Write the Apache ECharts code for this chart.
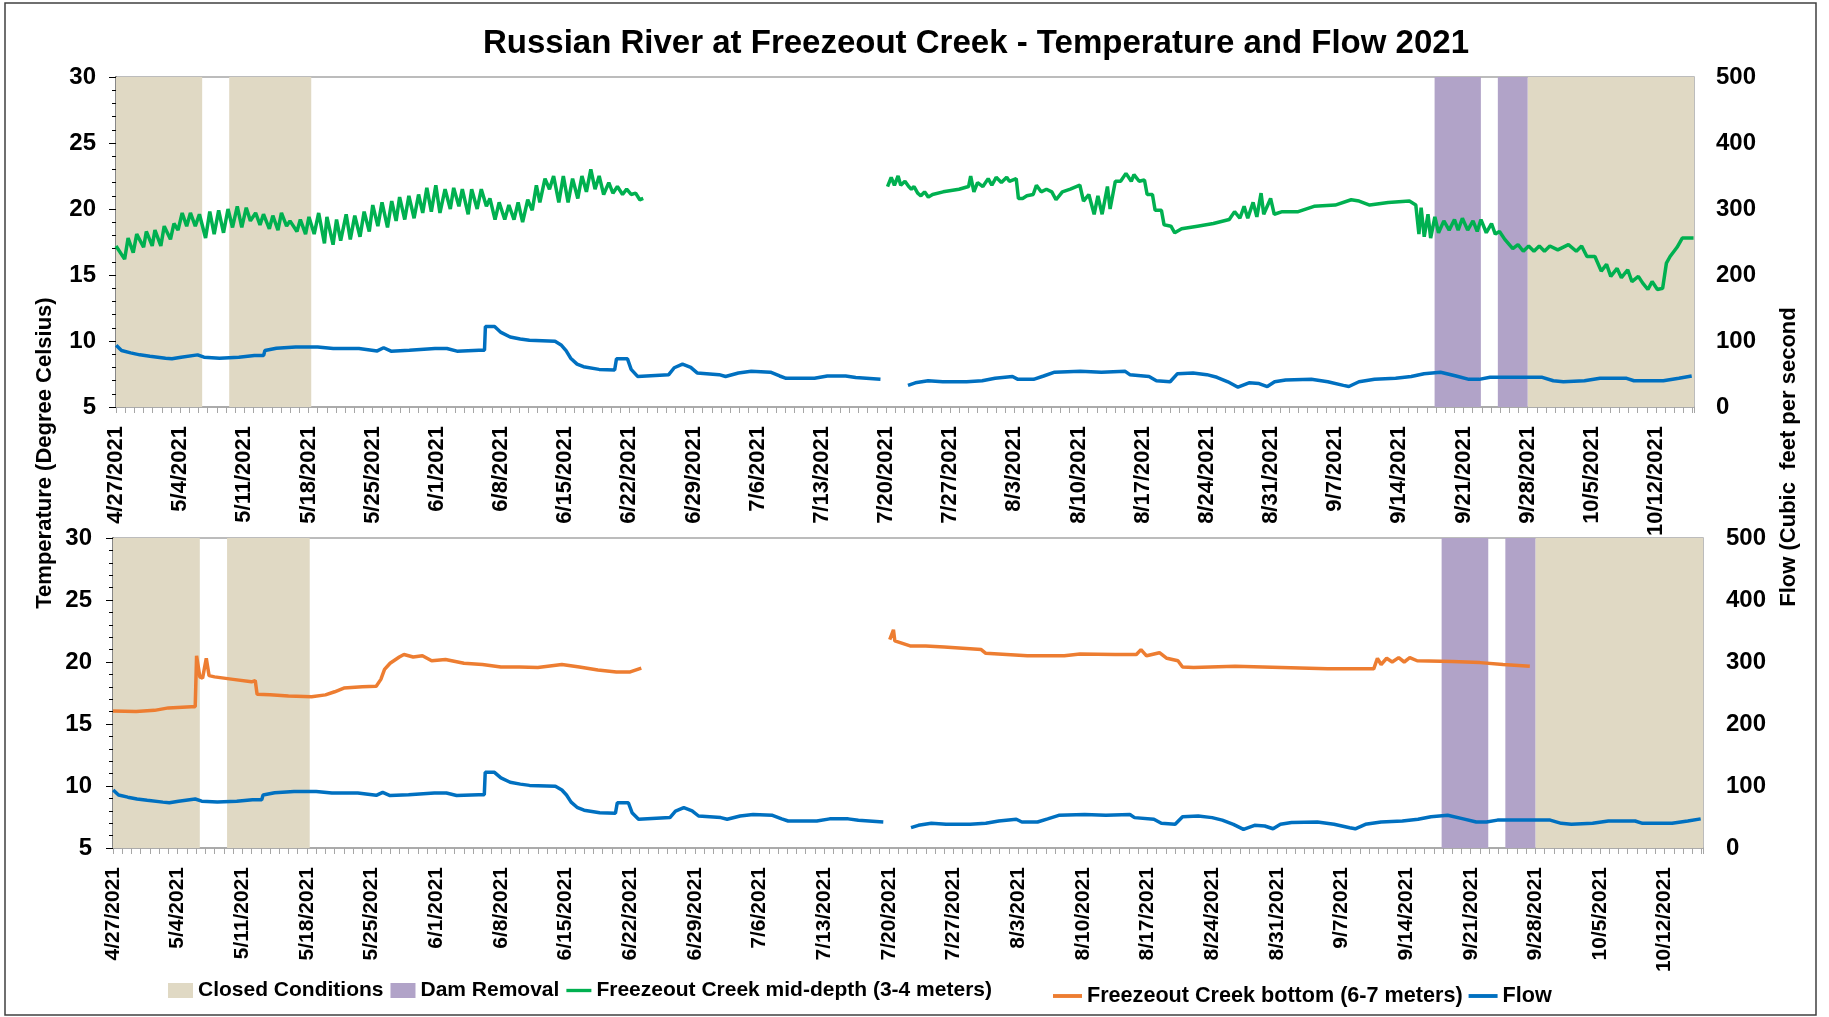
<!DOCTYPE html>
<html>
<head>
<meta charset="utf-8">
<script src="https://cdn.jsdelivr.net/npm/echarts@6/dist/echarts.min.js"></script>
<style>
  html, body { margin: 0; padding: 0; background: #fff; }
  #chart { width: 1829px; height: 1017px; }
</style>
</head>
<body>
<div id="chart"></div>
<script>
// x values are days after 4/27/2021
const startDate = [2021, 3, 27];
const dayMax = 172.15;

const closedRanges = [[0, 9.4], [12.35, 21.3], [154.0, dayMax]];
const damRanges = [[143.85, 148.9], [150.75, 154.0]];

// Freezeout Creek mid-depth (3-4 m), deg C
const midDepthSpring = [
  [0,17.2],[0.94,16.2],[1.32,17.8],[1.88,16.7],[2.26,18.1],[3.01,17.1],[3.31,18.3],[3.95,17.2],[4.25,18.4],
  [4.89,17.2],[5.26,18.7],[5.94,17.7],[6.32,18.9],[6.77,18.4],[7.22,19.7],[7.71,18.7],[8.12,19.7],[8.65,18.7],
  [9.1,19.6],[9.77,17.8],[10.23,19.8],[10.71,18.1],[11.2,19.9],[11.73,18.2],[12.22,20.0],[12.71,18.6],[13.23,20.2],
  [13.72,18.6],[14.21,20.1],[14.66,19.1],[15.23,19.7],[15.71,18.8],[16.09,19.6],[16.73,18.5],[17.11,19.5],[17.67,18.4],
  [18.05,19.7],[18.61,18.7],[18.98,19.1],[19.74,18.3],[20.11,19.2],[20.68,18.1],[21.05,19.4],[21.62,18.1],[22.11,19.7],
  [22.74,17.4],[23.01,19.4],[23.68,17.3],[24.06,19.2],[24.51,17.6],[25.11,19.6],[25.56,17.7],[26.05,19.5],[26.62,17.9],
  [27.07,19.8],[27.63,18.3],[28.01,20.3],[28.57,18.7],[29.02,20.5],[29.62,18.6],[30.08,20.6],[30.56,19.1],[30.94,20.9],
  [31.5,19.2],[31.95,21.0],[32.52,19.3],[33.01,21.1],[33.46,19.7],[33.91,21.6],[34.4,19.8],[34.89,21.8],[35.34,19.7],
  [35.9,21.5],[36.47,20.0],[36.84,21.6],[37.41,20.2],[37.78,21.5],[38.42,19.6],[38.8,21.5],[39.4,20.0],[39.85,21.5],
  [40.41,20.2],[40.79,20.8],[41.35,19.2],[41.8,20.5],[42.41,19.2],[42.86,20.3],[43.42,19.2],[43.87,20.5],[44.36,19.0],
  [44.92,20.7],[45.41,19.9],[45.86,21.8],[46.24,20.5],[46.8,22.3],[47.29,21.5],[47.74,22.5],[48.31,20.5],[48.8,22.5],
  [49.32,20.5],[49.81,22.3],[50.38,20.8],[50.83,22.5],[51.32,21.3],[51.8,23.0],[52.26,21.5],[52.71,22.5],[53.2,21.1],
  [53.76,22.0],[54.21,21.2],[54.7,21.7],[55.26,21.1],[55.71,21.5],[56.2,21.1],[56.69,21.2],[57.14,20.7],[57.52,20.8]
];
const midDepthSummer = [
  [84.17,21.7],[84.57,22.4],[84.92,21.8],[85.32,22.5],[85.61,21.8],[86.07,22.1],[86.48,21.7],[86.77,21.5],[87.06,21.7],
  [87.46,21.2],[87.81,21.0],[88.21,21.3],[88.62,20.9],[89.08,21.1],[90.24,21.3],[91.97,21.5],[93.01,21.7],[93.24,22.5],
  [93.59,21.3],[93.99,22.0],[94.57,21.7],[95.15,22.3],[95.55,21.8],[96.02,22.4],[96.59,22.0],[97.17,22.4],[97.46,22.1],
  [98.21,22.3],[98.45,20.8],[98.91,20.8],[99.37,21.0],[100.06,21.1],[100.41,21.8],[100.93,21.3],[101.51,21.5],[102.09,21.3],
  [102.55,20.7],[103.24,21.3],[104.11,21.5],[105.15,21.8],[105.55,20.6],[106.13,21.1],[106.71,19.6],[107.12,21.0],[107.58,19.6],
  [108.16,21.7],[108.45,20.0],[109.02,22.1],[109.6,22.1],[110.18,22.7],[110.76,22.1],[111.05,22.6],[111.62,22.1],[112.2,22.2],
  [112.49,21.1],[113.07,21.1],[113.36,19.9],[114.05,19.9],[114.34,18.8],[115.09,18.7],[115.5,18.2],[116.25,18.5],[117.98,18.7],
  [119.72,18.9],[121.45,19.2],[122.03,19.8],[122.61,19.3],[123.07,20.2],[123.47,19.3],[124.05,20.5],[124.46,19.4],[124.92,21.2],
  [125.21,19.6],[125.96,20.8],[126.36,19.6],[127.23,19.8],[128.97,19.8],[130.7,20.2],[133.01,20.3],[134.75,20.7],[135.61,20.6],
  [136.77,20.3],[138.79,20.5],[141.1,20.6],[141.8,20.3],[142.14,18.1],[142.38,20.1],[142.72,17.9],[143.13,19.6],[143.42,17.8],
  [143.88,19.4],[144.28,18.2],[144.86,19.1],[145.44,18.4],[146.02,19.2],[146.42,18.4],[146.88,19.3],[147.46,18.4],[148.04,19.1],
  [148.5,18.3],[148.91,19.2],[149.49,18.2],[150.06,18.9],[150.47,18.1],[150.93,18.3],[151.51,17.7],[152.38,17.0],[152.95,17.3],
  [153.53,16.8],[154.11,17.2],[154.69,16.8],[155.27,17.2],[155.84,16.8],[156.42,17.2],[157.29,16.9],[158.45,17.3],[159.31,16.8],
  [159.89,17.2],[160.47,16.4],[161.34,16.4],[162.03,15.3],[162.61,15.8],[163.07,14.9],[163.76,15.5],[164.23,14.8],[164.92,15.4],
  [165.38,14.5],[166.08,14.9],[166.54,14.4],[167.12,13.9],[167.58,14.5],[168.16,13.9],[168.73,14.0],[169.14,15.9],[169.54,16.4],
  [170.3,17.1],[170.87,17.8],[172.1,17.8]
];

// Freezeout Creek bottom (6-7 m), deg C
const bottomSpring = [
  [0,16.05],[2.5,16.0],[4.5,16.1],[6,16.3],[8.5,16.4],[8.9,16.4],[9.05,20.5],[9.4,18.8],[9.7,18.7],[10.1,20.3],
  [10.4,18.9],[11,18.8],[13,18.6],[15,18.4],[15.4,18.5],[15.6,17.4],[17,17.35],[19,17.25],[21.5,17.2],[23,17.35],
  [24,17.6],[25,17.9],[27,18.0],[28.5,18.05],[29,18.6],[29.4,19.4],[30,19.9],[31,20.4],[31.5,20.6],[32.5,20.4],
  [33.5,20.5],[34.5,20.1],[36,20.2],[38,19.9],[40,19.8],[42,19.6],[44,19.6],[46,19.55],[48.6,19.8],[50.5,19.6],
  [52.5,19.35],[54.5,19.2],[56,19.2],[57.2,19.5]
];
const bottomSummer = [
  [84.1,21.8],[84.5,22.6],[84.65,21.7],[86.3,21.3],[88,21.3],[90,21.2],[94,21.0],[94.5,20.7],[99,20.5],[103,20.5],
  [104.7,20.65],[108.5,20.6],[110.8,20.6],[111.3,21.0],[111.9,20.5],[113.3,20.75],[114.1,20.3],[115.3,20.1],[115.8,19.6],
  [117,19.55],[121.5,19.65],[126.5,19.55],[131.5,19.45],[136.5,19.45],[136.9,20.3],[137.3,19.8],[137.9,20.3],[138.5,20.0],
  [139.2,20.35],[139.8,20.0],[140.4,20.35],[141.2,20.1],[145,20.05],[148,19.95],[150.5,19.8],[153.4,19.65]
];

// Flow, cubic feet per second
const flowSpring = [
  [0.02,93.5],[0.6,85.5],[1.6,82],[2.6,79],[3.7,77],[5.4,74],[6.1,73],[7.1,75.5],[8.9,79],[9.6,75.5],[11.3,74],
  [13.4,75.5],[15.1,78],[16.1,78],[16.25,85.5],[17.5,89],[19.6,91],[22.0,91],[23.7,88.7],[26.5,88.7],[28.5,85],
  [29.2,89.8],[30,84.6],[32,86],[34.8,88.7],[36.1,88.7],[37.2,84.6],[39.6,86],[40.2,86],[40.3,122],[41.3,122],
  [42.0,113],[43.0,106],[44.1,103],[45.1,101],[47.9,99.5],[48.6,93.5],[49.1,85.5],[49.6,74],[50.3,65],[51.0,61],
  [52.7,57],[54.4,56],[54.6,73],[55.8,73],[56.2,57],[56.9,46.3],[60.3,49],[60.9,59.5],[61.8,65],[62.7,60],[63.4,51.6],
  [65.8,49],[66.5,46.3],[67.9,51.6],[69.3,54],[71.4,52.7],[72.4,47],[73.1,43.5],[76.2,43.5],[77.6,47],[79.6,47],
  [80.7,44.6],[83.4,41.9]
];
const flowSummer = [
  [86.4,32.8],[87.2,36.6],[88.6,39.8],[90.2,38.2],[92.8,38.2],[94.5,39.8],[95.9,43.5],[97.8,46.3],[98.4,41.9],
  [100.1,41.9],[101.2,47],[102.4,52.7],[105.2,54],[107.5,52.7],[110.1,54],[110.6,49],[112.7,46.3],[113.5,39.8],
  [115.0,38.2],[115.8,50.5],[117.5,51.6],[119.0,49],[120.1,45],[121.3,38.2],[122.4,30],[123.6,36.6],[124.7,35.5],
  [125.6,31],[126.4,38.2],[127.6,41],[130.4,41.9],[132.2,38.2],[133.9,32.8],[134.5,31],[135.6,38.2],[137.3,41.9],
  [139.6,43.5],[141.3,46.3],[142.7,50.5],[144.5,52.7],[146.2,47],[147.6,41.9],[148.7,41.9],[149.9,45],[153.3,45],
  [155.6,45],[156.8,39.8],[157.9,38.2],[160.2,39.8],[161.9,43.5],[164.8,43.5],[165.6,39.8],[168.8,39.8],[170.5,43.5],
  [171.9,47]
];

const FONT = 'Liberation Sans, Arial, sans-serif';
const TAN = '#e0d9c4';
const PURPLE = '#b1a3c8';
const GREEN = '#00b050';
const ORANGE = '#ed7d31';
const BLUE = '#0070c0';
const AXIS_GRAY = '#a6a6a6';
const LINE_ICON = 'path://M0,0L30,0L30,4L0,4Z';

const gap = (a, b) => a.concat([[(a[a.length - 1][0] + b[0][0]) / 2, '-']], b);

const dateLabel = (d) => {
  const t = new Date(startDate[0], startDate[1], startDate[2] + Math.round(d));
  return (t.getMonth() + 1) + '/' + t.getDate() + '/' + t.getFullYear();
};

const chart = echarts.init(document.getElementById('chart'));

const weekAxis = (gridIndex, fontSize) => ({
  type: 'value', gridIndex, position: 'bottom', min: 0, max: dayMax, interval: 7,
  axisLine: { show: true, lineStyle: { color: AXIS_GRAY, width: 1.5 } },
  axisTick: { show: true, length: 6, lineStyle: { color: AXIS_GRAY } },
  axisLabel: {
    rotate: 90, margin: 19, fontSize, fontWeight: 'bold', color: '#000', fontFamily: FONT,
    formatter: dateLabel, showMaxLabel: false
  },
  splitLine: { show: false }
});
const dayAxis = (gridIndex) => ({
  type: 'value', gridIndex, position: 'bottom', min: 0, max: dayMax, interval: 1,
  axisLine: { show: false },
  axisTick: { show: true, length: 6, lineStyle: { color: AXIS_GRAY } },
  axisLabel: { show: false },
  splitLine: { show: false }
});
const tempAxis = (gridIndex, margin) => ({
  type: 'value', gridIndex, position: 'left', min: 5, max: 30, interval: 5,
  axisLine: { show: true, lineStyle: { color: '#000', width: 1.5 } },
  axisTick: { show: true, length: 7, lineStyle: { color: '#000' } },
  minorTick: { show: true, splitNumber: 5, length: 4, lineStyle: { color: '#000' } },
  axisLabel: { fontSize: 24, fontWeight: 'bold', color: '#000', fontFamily: FONT, margin },
  splitLine: { show: false }
});
const flowAxis = (gridIndex, minor, margin) => ({
  type: 'value', gridIndex, position: 'right', min: 0, max: 500, interval: 100,
  axisLine: { show: true, lineStyle: { color: AXIS_GRAY, width: 1.5 } },
  axisTick: { show: true, length: 8, lineStyle: { color: AXIS_GRAY } },
  minorTick: { show: minor, splitNumber: 5, length: 4, lineStyle: { color: AXIS_GRAY } },
  axisLabel: { fontSize: 24, fontWeight: 'bold', color: '#000', fontFamily: FONT, margin },
  splitLine: { show: false }
});

const shade = (name, color, ranges, xi, yi) => ({
  name, type: 'line', xAxisIndex: xi, yAxisIndex: yi, data: [], color,
  markArea: {
    silent: true,
    itemStyle: { color, opacity: 1 },
    data: ranges.map(r => [{ xAxis: r[0] }, { xAxis: r[1] }])
  }
});
const line = (name, color, data, xi, yi) => ({
  name, type: 'line', xAxisIndex: xi, yAxisIndex: yi, data, color,
  symbol: 'none', connectNulls: false,
  lineStyle: { width: 3.5, color }
});

const legendText = (fontSize) => ({ fontSize, fontWeight: 'bold', color: '#000', fontFamily: FONT });

chart.setOption({
  animation: false,
  textStyle: { fontFamily: FONT },
  title: {
    text: 'Russian River at Freezeout Creek - Temperature and Flow 2021',
    left: 976, top: 27, padding: 0,
    textAlign: 'center', textVerticalAlign: 'top',
    textStyle: { fontSize: 33, fontWeight: 'bold', color: '#000', fontFamily: FONT }
  },
  legend: [
    {
      left: 168, top: 980, padding: 0, itemWidth: 25, itemHeight: 15, itemGap: 7,
      textStyle: legendText(21),
      data: [
        { name: 'Closed Conditions', icon: 'rect' },
        { name: 'Dam Removal', icon: 'rect' },
        { name: 'Freezeout Creek mid-depth (3-4 meters)', icon: LINE_ICON }
      ]
    },
    {
      left: 1053, top: 985, padding: 0, itemWidth: 29, itemHeight: 15, itemGap: 6,
      textStyle: legendText(21.6),
      data: [
        { name: 'Freezeout Creek bottom (6-7 meters)', icon: LINE_ICON },
        { name: 'Flow', icon: LINE_ICON }
      ]
    }
  ],
  grid: [
    { left: 116, right: 135, top: 77, height: 330, show: true, borderColor: AXIS_GRAY, borderWidth: 1.5 },
    { left: 113, right: 126, top: 538, height: 310, show: true, borderColor: AXIS_GRAY, borderWidth: 1.5 }
  ],
  xAxis: [weekAxis(0, 22), dayAxis(0), weekAxis(1, 21), dayAxis(1)],
  yAxis: [tempAxis(0, 20), flowAxis(0, false, 22), tempAxis(1, 21), flowAxis(1, true, 23)],
  graphic: [
    {
      type: 'rect', silent: true,
      shape: { x: 5, y: 3, width: 1811, height: 1012 },
      style: { fill: 'none', stroke: '#404040', lineWidth: 1.5 }
    },
    {
      type: 'text', x: 45, y: 453, rotation: Math.PI / 2,
      style: {
        text: 'Temperature (Degree Celsius)', font: 'bold 22px ' + FONT, fill: '#000',
        textAlign: 'center', textVerticalAlign: 'middle', align: 'center', verticalAlign: 'middle'
      }
    },
    {
      type: 'text', x: 1789, y: 457, rotation: Math.PI / 2,
      style: {
        text: 'Flow (Cubic  feet per second', font: 'bold 22px ' + FONT, fill: '#000',
        textAlign: 'center', textVerticalAlign: 'middle', align: 'center', verticalAlign: 'middle'
      }
    }
  ],
  series: [
    shade('Closed Conditions', TAN, closedRanges, 0, 0),
    shade('Dam Removal', PURPLE, damRanges, 0, 0),
    shade('Closed Conditions', TAN, closedRanges, 2, 2),
    shade('Dam Removal', PURPLE, damRanges, 2, 2),
    line('Flow', BLUE, gap(flowSpring, flowSummer), 0, 1),
    line('Freezeout Creek mid-depth (3-4 meters)', GREEN, gap(midDepthSpring, midDepthSummer), 0, 0),
    line('Flow', BLUE, gap(flowSpring, flowSummer), 2, 3),
    line('Freezeout Creek bottom (6-7 meters)', ORANGE, gap(bottomSpring, bottomSummer), 2, 2)
  ]
});

window.addEventListener('resize', () => chart.resize());
</script>
</body>
</html>
